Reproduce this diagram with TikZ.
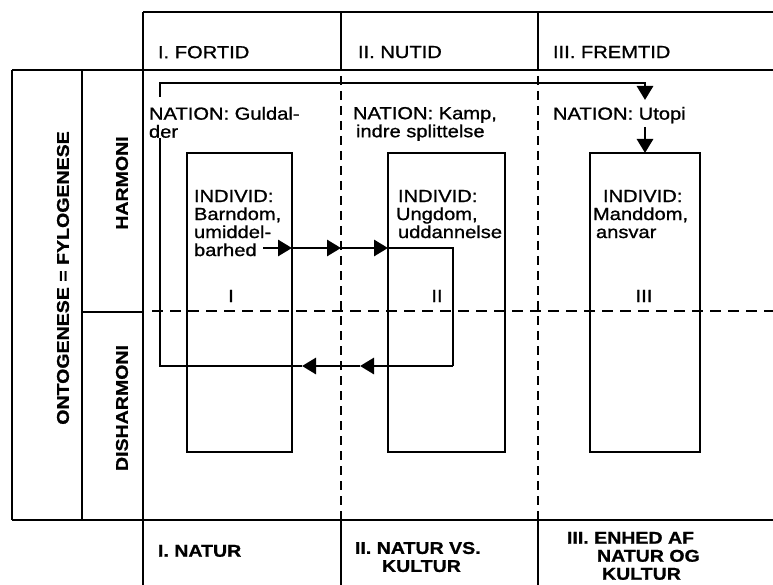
\documentclass[tikz,border=0pt]{standalone}
\usepackage{fontspec}
\setmainfont{Liberation Sans}[FakeStretch=1.15,FakeBold=1.0]
\usetikzlibrary{arrows.meta,calc}
\begin{document}
\begin{tikzpicture}[x=1pt,y=-1pt,
  every node/.style={inner sep=0pt,outer sep=0pt,font=\fontsize{17.5}{18}\selectfont},
  grid/.style={line width=2.9pt},
  dgridv/.style={line width=2.6pt,dash pattern=on 9pt off 6pt},
  dgridh/.style={line width=2.6pt,dash pattern=on 11pt off 7pt},
  ibox/.style={draw,line width=2.9pt,minimum width=#1,minimum height=299pt},
  conn/.style={line width=2.9pt},
  tip/.style={-{Triangle[length=14pt,width=16pt]}},
  txt/.style={anchor=north west,align=left},
  bld/.style={font=\fontsize{17}{18}\selectfont\bfseries},
]
\useasboundingbox (0,0) rectangle (773,585);
% grid
\draw[grid] (143,12) -- (773,12);
\draw[grid] (12,70) -- (773,70);
\draw[grid] (12,520) -- (773,520);
\draw[grid] (12,70) -- (12,520);
\draw[grid] (82,70) -- (82,520);
\draw[grid] (143,12) -- (143,585);
\draw[grid] (341,12) -- (341,70);
\draw[grid] (341,520) -- (341,585);
\draw[grid] (538,12) -- (538,70);
\draw[grid] (538,520) -- (538,585);
\draw[dgridv] (341,76) -- (341,520);
\draw[dgridv] (538,76) -- (538,520);
\draw[grid] (82,312) -- (143,312);
\draw[dgridh] (152,311) -- (773,311);
% boxes
\node[ibox=105pt] (b1) at (239.5,302.5) {};
\node[ibox=117pt] (b2) at (446.5,302.5) {};
\node[ibox=110pt] (b3) at (645,302.5) {};
% headers
\node[txt] (h1) at (158,46) {I. FORTID};
\node[txt] (h2) at (358,46) {II. NUTID};
\node[txt] (h3) at (553,46) {III. FREMTID};
% side labels
\node[bld,rotate=90] (onto) at (63,278) {ONTOGENESE = FYLOGENESE};
\node[bld,rotate=90] (harm) at (122,183) {HARMONI};
\node[bld,rotate=90] (dish) at (122,408) {DISHARMONI};
% nation texts
\node[txt] (n1) at (149,107) {NATION: Guldal-\\der};
\node[txt] (n2) at (353,107) {NATION: Kamp,\\\hspace*{3pt}indre splittelse};
\node[txt] (n3) at (553,107) {NATION: Utopi};
% individ texts
\node[txt] (i1) at (194,190) {INDIVID:\\Barndom,\\umiddel-\\barhed};
\node[txt] (i2) at (396,190) {\hspace*{2pt}INDIVID:\\Ungdom,\\\hspace*{2pt}uddannelse};
\node[txt] (i3) at (593,190) {\hspace*{10pt}INDIVID:\\Manddom,\\\hspace*{3pt}ansvar};
% numerals
\node (r1) at (231,296) {I};
\node (r2) at (437,296) {II};
\node (r3) at (644,296) {III};
% bottom labels
\node[txt,bld] (f1) at (158,545) {I. NATUR};
\node[txt,bld] (f2) at (355,542) {II. NATUR VS.\\\hspace*{27pt}KULTUR};
\node[txt,bld] (f3) at (567,532) {III. ENHED AF\\\hspace*{30pt}NATUR OG\\\hspace*{35pt}KULTUR};
% nation connector
\coordinate (s1) at (160,97);
\coordinate (k1) at (645,83);
\coordinate (t1) at (645,100);
\coordinate (s2) at (645,127);
\draw[conn,tip] (s1) |- (k1) -- (t1);
\draw[conn,tip] (s2) -- (b3.north);
% individ loop
\coordinate (bs) at (263,248);
\coordinate (p1) at (b1.east |- bs);
\coordinate (p2) at (341,248);
\coordinate (p3) at (b2.west |- bs);
\coordinate (p4) at (453,366);
\coordinate (q1) at (360,366);
\coordinate (q2) at (302,366);
\coordinate (e1) at (160,138);
\draw[conn,tip] (bs) -- (p1);
\draw[conn,tip] (p1) -- (p2);
\draw[conn,tip] (p2) -- (p3);
\draw[conn] (p3) -| (p4);
\draw[conn,tip] (p4) -- (q1);
\draw[conn,tip] (q1) -- (q2);
\draw[conn] (q2) -| (e1);
\end{tikzpicture}
\end{document}
